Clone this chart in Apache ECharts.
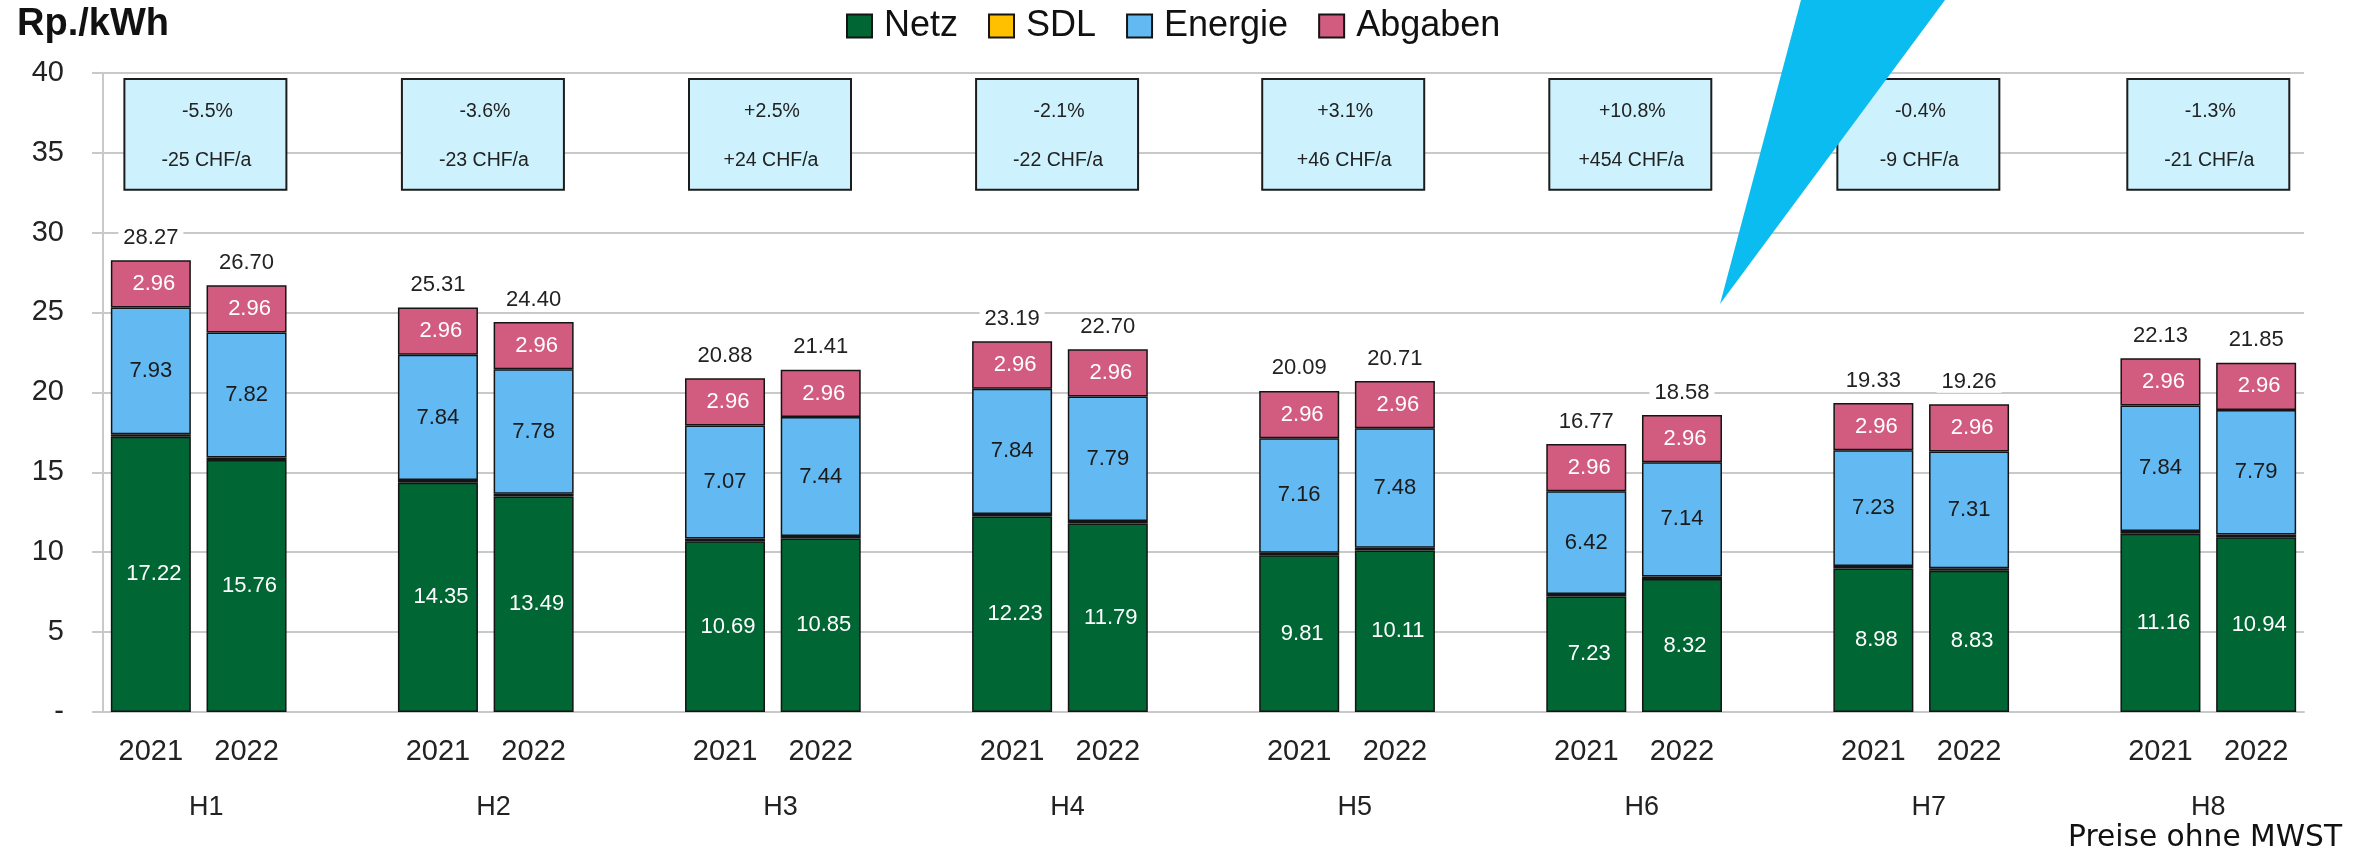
<!DOCTYPE html>
<html>
<head>
<meta charset="utf-8">
<style>html,body{margin:0;padding:0;background:#fff}#main{width:2369px;height:849px}</style>
<script src="https://cdn.jsdelivr.net/npm/echarts@6/dist/echarts.min.js"></script>
</head>
<body>
<div id="main"></div>
<script>
var groups = ['H1', 'H2', 'H3', 'H4', 'H5', 'H6', 'H7', 'H8'];
var years = ['2021', '2022'];
var netz = [17.22, 15.76, 14.35, 13.49, 10.69, 10.85, 12.23, 11.79, 9.81, 10.11, 7.23, 8.32, 8.98, 8.83, 11.16, 10.94];
var sdl = [0.16, 0.16, 0.16, 0.17, 0.16, 0.16, 0.16, 0.16, 0.16, 0.16, 0.16, 0.16, 0.16, 0.16, 0.17, 0.16];
var energie = [7.93, 7.82, 7.84, 7.78, 7.07, 7.44, 7.84, 7.79, 7.16, 7.48, 6.42, 7.14, 7.23, 7.31, 7.84, 7.79];
var abgaben = [2.96, 2.96, 2.96, 2.96, 2.96, 2.96, 2.96, 2.96, 2.96, 2.96, 2.96, 2.96, 2.96, 2.96, 2.96, 2.96];
var totals = [28.27, 26.70, 25.31, 24.40, 20.88, 21.41, 23.19, 22.70, 20.09, 20.71, 16.77, 18.58, 19.33, 19.26, 22.13, 21.85];
var percentChange = ['-5.5%', '-3.6%', '+2.5%', '-2.1%', '+3.1%', '+10.8%', '-0.4%', '-1.3%'];
var chfChange = ['-25 CHF/a', '-23 CHF/a', '+24 CHF/a', '-22 CHF/a', '+46 CHF/a', '+454 CHF/a', '-9 CHF/a', '-21 CHF/a'];
// where the group names and the boxes sit, counted in bar slots from the left
var groupLabelAt = [1.08, 4.08, 7.08, 10.08, 13.08, 16.08, 19.08, 22];
var boxAt = [1.07, 3.97, 6.97, 9.97, 12.96, 15.96, 18.97, 22];

var font = 'Liberation Sans';
var gridColor = '#C9C9C9';
var barBorder = '#141414';

// one empty slot between two groups
function withGaps(values) {
	var out = [];
	for (var i = 0; i < values.length; i++) {
		out.push(values[i]);
		if (i % 2 == 1 && i < values.length - 1) out.push(null);
	}
	return out;
}

var categories = [];
for (var g = 0; g < groups.length; g++) {
	categories.push(years[0], years[1]);
	if (g < groups.length - 1) categories.push('');
}

function barSeries(name, values, color, labelColor, labelOffset) {
	return {
		name: name,
		type: 'bar',
		stack: 'preis',
		barWidth: 80,
		data: withGaps(values),
		itemStyle: { color: color, borderColor: barBorder, borderWidth: 1.5 },
		label: {
			show: labelColor != null,
			position: 'inside',
			offset: labelOffset,
			fontFamily: font,
			fontSize: 22,
			color: labelColor,
			formatter: function (p) { return p.value.toFixed(2); }
		}
	};
}

var boxData = [];
for (var b = 0; b < boxAt.length; b++) {
	boxData.push([boxAt[b], percentChange[b], chfChange[b]]);
}

function renderBox(params, api) {
	var centre = api.coord([api.value(0), 36.13]);
	var top = api.coord([api.value(0), 39.6]);
	var bottom = api.coord([api.value(0), 32.67]);
	var w = 162;
	var textStyle = { font: '19.5px "Liberation Sans"', fill: '#222', align: 'center', verticalAlign: 'middle' };
	return {
		type: 'group',
		children: [
			{
				type: 'rect',
				shape: { x: centre[0] - w / 2, y: top[1], width: w, height: bottom[1] - top[1] },
				style: { fill: '#CDF2FD', stroke: '#1c1c1c', lineWidth: 2 }
			},
			{
				type: 'text',
				style: Object.assign({ text: boxData[params.dataIndex][1], x: centre[0] + 2, y: centre[1] - 22.5 }, textStyle)
			},
			{
				type: 'text',
				style: Object.assign({ text: boxData[params.dataIndex][2], x: centre[0] + 1, y: centre[1] + 26.5 }, textStyle)
			}
		]
	};
}

var myChart = echarts.init(document.getElementById('main'));

var option = {
	animation: false,
	backgroundColor: '#fff',
	title: {
		text: 'Rp./kWh',
		left: 12,
		top: 1,
		textStyle: { fontFamily: font, fontSize: 38, fontWeight: 'bold', color: '#111' }
	},
	legend: {
		left: 841,
		top: 3,
		icon: 'rect',
		itemWidth: 25,
		itemHeight: 23,
		itemGap: 30,
		data: ['Netz', 'SDL', 'Energie', 'Abgaben'],
		textStyle: { fontFamily: font, fontSize: 36, color: '#111', padding: [0, 0, 0, 7] }
	},
	grid: { left: 103, right: 65, top: 72.7, bottom: 137 },
	xAxis: [
		{
			type: 'category',
			data: categories,
			axisTick: { show: false },
			axisLine: { lineStyle: { color: gridColor, width: 2 } },
			axisLabel: { interval: 0, margin: 25, fontFamily: font, fontSize: 29, color: '#222' }
		},
		{
			type: 'value',
			position: 'bottom',
			min: 0,
			max: 23,
			axisLine: { show: false },
			axisTick: { show: false },
			splitLine: { show: false },
			axisLabel: {
				customValues: groupLabelAt,
				margin: 82,
				fontFamily: font,
				fontSize: 27,
				color: '#222',
				formatter: function (v) { return groups[groupLabelAt.indexOf(v)]; }
			}
		}
	],
	yAxis: {
		type: 'value',
		min: 0,
		max: 40,
		interval: 5,
		axisLine: { show: true, lineStyle: { color: gridColor, width: 2 } },
		axisTick: { show: true, length: 11, lineStyle: { color: gridColor, width: 2 } },
		splitLine: { lineStyle: { color: gridColor, width: 2 } },
		axisLabel: {
			margin: 39,
			fontFamily: font,
			fontSize: 29,
			color: '#222',
			formatter: function (v) { return v == 0 ? '-' : v; }
		}
	},
	series: [
		barSeries('Netz', netz, '#006633', '#fff', [3, 0]),
		barSeries('SDL', sdl, '#FFC000', null),
		barSeries('Energie', energie, '#63B9F1', '#1a1a1a', [0, 0]),
		barSeries('Abgaben', abgaben, '#D25C80', '#fff', [3, 0]),
		{
			name: 'Total',
			type: 'line',
			data: withGaps(totals),
			symbol: 'circle',
			symbolSize: 1,
			lineStyle: { color: 'rgba(0,0,0,0)' },
			itemStyle: { color: 'rgba(0,0,0,0)' },
			z: 5,
			label: {
				show: true,
				position: 'top',
				distance: 11,
				fontFamily: font,
				fontSize: 22,
				color: '#222',
				backgroundColor: '#fff',
				padding: [0, 5],
				formatter: function (p) { return p.value.toFixed(2); }
			}
		},
		{
			name: 'Change',
			type: 'custom',
			xAxisIndex: 1,
			yAxisIndex: 0,
			silent: true,
			z: 6,
			data: boxData,
			encode: { x: 0 },
			renderItem: renderBox
		}
	],
	graphic: [
		{
			type: 'polygon',
			z: 100,
			shape: { points: [[1801, 0], [1945, 0], [1720, 304]] },
			style: { fill: '#0BBCF1' }
		},
		{
			type: 'text',
			z: 100,
			left: 2068,
			top: 823,
			style: { text: 'Preise ohne MWST', fontFamily: 'DejaVu Sans', fontSize: 29.7, fill: '#111' }
		}
	]
};

myChart.setOption(option);
</script>
</body>
</html>
